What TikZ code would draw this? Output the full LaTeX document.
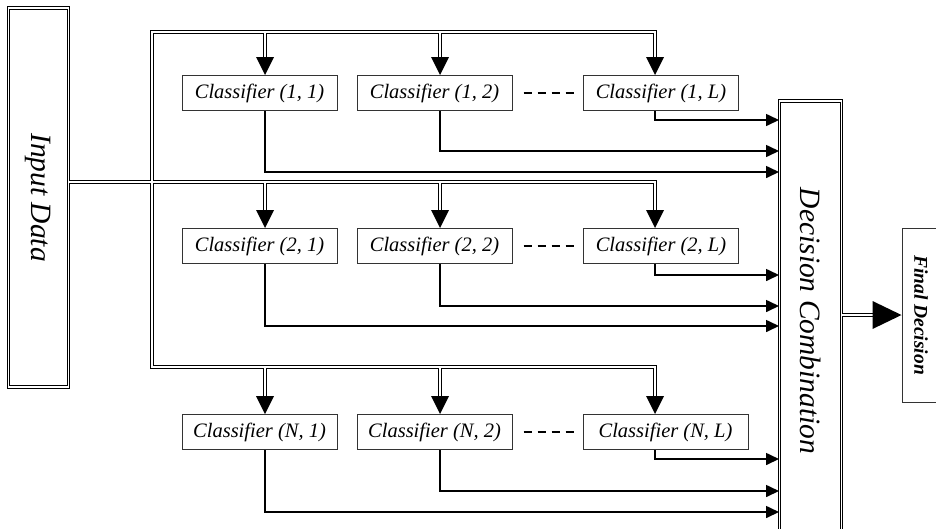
\documentclass[tikz,border=0pt]{standalone}
\usepackage{fontspec}
\setmainfont{Liberation Serif}
\usetikzlibrary{arrows.meta,calc}
\begin{document}
\begin{tikzpicture}[x=1pt,y=-1pt,
  clsbox/.style={draw=black!80, line width=1pt, minimum width=155pt, minimum height=35pt, inner sep=0pt, fill=white,
    font=\fontsize{20.5}{23}\selectfont\itshape},
  dblbox/.style={draw=black, double, double distance=1.8pt, line width=1pt, inner sep=0pt},
  bus/.style={draw=black, double, double distance=2pt, line width=1.1pt},
  outarr/.style={line width=1.6pt, -{Triangle[length=13pt,width=12pt]}},
  dashline/.style={line width=1.8pt, dash pattern=on 8pt off 6pt},
  tipfill/.style={fill=black}
]
\useasboundingbox (0,0) rectangle (936,528);

% column x positions
\coordinate (xa) at (265,0);
\coordinate (xb) at (440,0);
\coordinate (xc) at (655,0);

% big boxes
\node[dblbox, minimum width=60pt, minimum height=379pt] (in) at (38.5,197.5)
  {\rotatebox{-90}{\fontsize{29.5}{31}\selectfont\itshape Input Data}};
\node[dblbox, minimum width=62pt, minimum height=440pt] (dc) at (810.5,321)
  {\rotatebox{-90}{\fontsize{29.5}{31}\selectfont\itshape Decision Combination}};
\node[draw=black!80, line width=1pt, minimum width=38pt, minimum height=174pt, inner sep=0pt] (fd) at (921,315)
  {\rotatebox{-90}{\fontsize{19.5}{21}\selectfont\bfseries\itshape Final Decision}};

% classifiers
\node[clsbox] (c11) at (259.5,93) {Classifier (1, 1)};
\node[clsbox] (c12) at (434.5,93) {Classifier (1, 2)};
\node[clsbox] (c1L) at (661,93) {Classifier (1, L)};
\node[clsbox] (c21) at (259.5,246) {Classifier (2, 1)};
\node[clsbox] (c22) at (434.5,246) {Classifier (2, 2)};
\node[clsbox] (c2L) at (661,246) {Classifier (2, L)};
\node[clsbox] (cN1) at (259.5,432) {Classifier (N, 1)};
\node[clsbox] (cN2) at (434.5,432) {Classifier (N, 2)};
\node[clsbox, minimum width=165pt] (cNL) at (665.5,432) {Classifier (N, L)};

% distribution buses (double lines)
\draw[bus]
  ($(xc |- c1L.north)+(0,-18)$) -- (xc |- 0,32) -- (152,32) -- (152,367) -- (xc |- 0,367) -- ($(xc |- cNL.north)+(0,-18)$)
  (xa |- 0,32) -- ($(xa |- c11.north)+(0,-18)$)
  (xb |- 0,32) -- ($(xb |- c12.north)+(0,-18)$)
  (xa |- 0,367) -- ($(xa |- cN1.north)+(0,-18)$)
  (xb |- 0,367) -- ($(xb |- cN2.north)+(0,-18)$)
  (in.east |- 0,182) -- (xc |- 0,182) -- ($(xc |- c2L.north)+(0,-18)$)
  (xa |- 0,182) -- ($(xa |- c21.north)+(0,-18)$)
  (xb |- 0,182) -- ($(xb |- c22.north)+(0,-18)$);

% downward arrow tips
\foreach \n/\x in {c11/xa,c12/xb,c1L/xc,c21/xa,c22/xb,c2L/xc,cN1/xa,cN2/xb,cNL/xc}{
  \fill[tipfill] (\x |- \n.north) -- ++(-9,-18) -- ++(18,0) -- cycle;
}

% dashes between columns
\draw[dashline, shorten <=11pt, shorten >=9pt] (c12.east) -- (c1L.west);
\draw[dashline, shorten <=11pt, shorten >=9pt] (c22.east) -- (c2L.west);
\draw[dashline, shorten <=11pt, shorten >=9pt] (cN2.east) -- (cNL.west);

% outputs to decision combination
\draw[outarr] (xc |- c1L.south) |- (dc.west |- 0,120);
\draw[outarr] (xb |- c12.south) |- (dc.west |- 0,151);
\draw[outarr] (xa |- c11.south) |- (dc.west |- 0,172);
\draw[outarr] (xc |- c2L.south) |- (dc.west |- 0,275);
\draw[outarr] (xb |- c22.south) |- (dc.west |- 0,306);
\draw[outarr] (xa |- c21.south) |- (dc.west |- 0,326);
\draw[outarr] (xc |- cNL.south) |- (dc.west |- 0,459);
\draw[outarr] (xb |- cN2.south) |- (dc.west |- 0,491);
\draw[outarr] (xa |- cN1.south) |- (dc.west |- 0,512);

% final decision arrow
\draw[bus, shorten >=29pt] (dc.east |- fd.west) -- (fd.west);
\fill[tipfill] (fd.west) -- ++(-29,-14) -- ++(0,28) -- cycle;
\end{tikzpicture}
\end{document}
